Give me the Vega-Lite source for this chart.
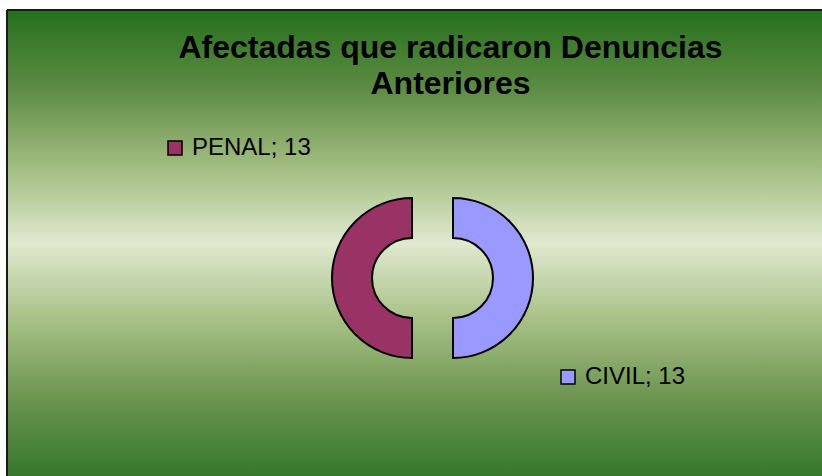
{
  "$schema": "https://vega.github.io/schema/vega-lite/v6.json",
  "autosize": "none",
  "width": 815,
  "height": 466,
  "padding": {"left": 7, "top": 10, "right": 0, "bottom": 0},
  "background": "white",
  "title": {
    "text": ["Afectadas que radicaron Denuncias", "Anteriores"],
    "orient": "top",
    "anchor": "middle",
    "frame": "group",
    "offset": -92,
    "dx": 36,
    "font": "Liberation Sans",
    "fontSize": 32,
    "fontWeight": "bold",
    "color": "black",
    "lineHeight": 36
  },
  "config": {"view": {"stroke": null}},
  "layer": [
    {
      "data": {"values": [{}]},
      "mark": {
        "type": "rect",
        "stroke": "#1a1a1a",
        "strokeWidth": 2,
        "strokeDash": [815, 1281, 466, 0],
        "fill": {
          "gradient": "linear",
          "x1": 0, "y1": 0, "x2": 0, "y2": 1,
          "stops": [
            {"offset": 0, "color": "#25701d"},
            {"offset": 0.17, "color": "#5e8c44"},
            {"offset": 0.33, "color": "#9fbb7e"},
            {"offset": 0.5, "color": "#dfe9cf"},
            {"offset": 0.67, "color": "#a6bf84"},
            {"offset": 0.83, "color": "#6c9550"},
            {"offset": 1, "color": "#36782a"}
          ]
        }
      },
      "encoding": {}
    },
    {
      "data": {
        "values": [
          {"categoria": "CIVIL", "valor": 13},
          {"categoria": "PENAL", "valor": 13}
        ]
      },
      "transform": [
        {"stack": "valor", "groupby": [], "as": ["t0", "t1"], "sort": [{"field": "categoria", "order": "ascending"}]},
        {"calculate": "datum.categoria + '; ' + datum.valor", "as": "etiqueta"}
      ],
      "layer": [
        {
          "transform": [{"filter": "datum.categoria === 'PENAL'"}],
          "mark": {"type": "arc", "radius": 80, "radius2": 40, "stroke": "black", "strokeWidth": 2, "xOffset": -2.5, "yOffset": 35, "opacity": 1},
          "encoding": {
            "theta": {"field": "t0", "type": "quantitative", "scale": {"domain": [0, 26]}},
            "theta2": {"field": "t1"},
            "color": {
              "field": "etiqueta", "type": "nominal",
              "scale": {"range": ["#993366"]},
              "legend": {
                "orient": "none", "legendX": 156, "legendY": 126, "title": null, "padding": 0,
                "symbolType": "square", "symbolSize": 196, "symbolStrokeColor": "black", "symbolStrokeWidth": 1.5, "symbolOpacity": 1,
                "labelFont": "Liberation Sans", "labelFontSize": 24, "labelColor": "black", "labelOffset": 5, "labelLimit": 400
              }
            }
          }
        },
        {
          "transform": [{"filter": "datum.categoria === 'CIVIL'"}],
          "mark": {"type": "arc", "radius": 80, "radius2": 40, "stroke": "black", "strokeWidth": 2, "xOffset": 38.5, "yOffset": 35, "opacity": 1},
          "encoding": {
            "theta": {"field": "t0", "type": "quantitative", "scale": {"domain": [0, 26]}},
            "theta2": {"field": "t1"},
            "color": {
              "field": "etiqueta", "type": "nominal",
              "scale": {"range": ["#9999ff"]},
              "legend": {
                "orient": "none", "legendX": 549, "legendY": 355, "title": null, "padding": 0,
                "symbolType": "square", "symbolSize": 196, "symbolStrokeColor": "black", "symbolStrokeWidth": 1.5, "symbolOpacity": 1,
                "labelFont": "Liberation Sans", "labelFontSize": 24, "labelColor": "black", "labelOffset": 5, "labelLimit": 400
              }
            }
          }
        }
      ],
      "resolve": {"scale": {"color": "independent"}, "legend": {"color": "independent"}}
    }
  ]
}
